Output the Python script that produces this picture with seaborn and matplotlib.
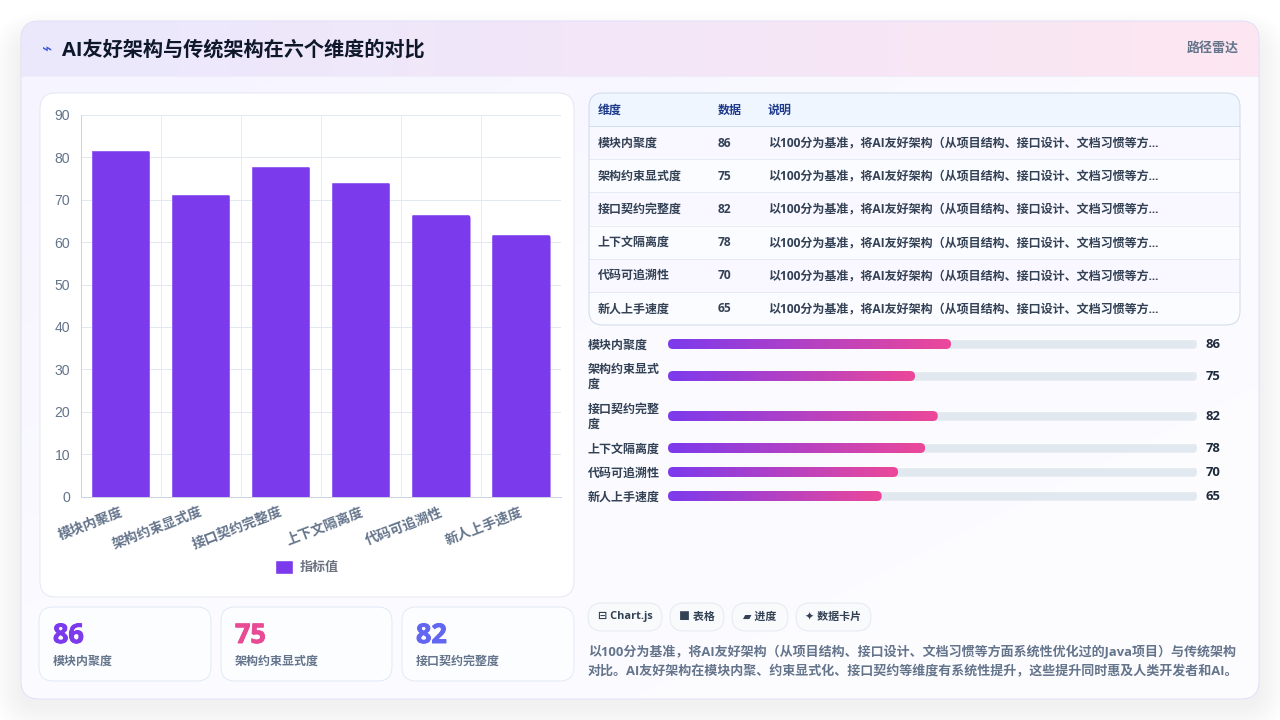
import numpy as np
import pandas as pd
import matplotlib
matplotlib.use("Agg")
import matplotlib.pyplot as plt
import matplotlib.patheffects as pe
import seaborn as sns
from matplotlib.colors import LinearSegmentedColormap
from matplotlib.patches import FancyBboxPatch, Patch, Rectangle
from matplotlib.transforms import IdentityTransform, ScaledTranslation

# ---------- Data ----------

categories = ['模块内聚度', '架构约束显式度', '接口契约完整度', '上下文隔离度', '代码可追溯性', '新人上手速度']
bar_values = [81.6, 71.2, 77.8, 74.0, 66.4, 61.7]
score_values = [86, 75, 82, 78, 70, 65]
fill_percent = [53.5, 46.7, 51.0, 48.6, 43.5, 40.4]
progress_labels = ['模块内聚度', '架构约束显式\n度', '接口契约完整\n度', '上下文隔离度', '代码可追溯性', '新人上手速度']
y_ticks = [0, 10, 20, 30, 40, 50, 60, 70, 80, 90]
table_headers = ['维度', '数据', '说明']
note_text = '以100分为基准，将AI友好架构（从项目结构、接口设计、文档习惯等方...'
card_colors = ['#7c3aed', '#e84a94', '#6366f1']
chips = ['⊟ Chart.js', '■ 表格', '▰ 进度', '✦ 数据卡片']
summary_lines = [
    '以100分为基准，将AI友好架构（从项目结构、接口设计、文档习惯等方面系统性优化过的Java项目）与传统架构',
    '对比。AI友好架构在模块内聚、约束显式化、接口契约等维度有系统性提升，这些提升同时惠及人类开发者和AI。',
]

sns.set_theme(style='white')
FONTS = ['Open Sans', 'Noto Sans CJK SC', 'DejaVu Sans']
plt.rcParams['font.family'] = FONTS

W, H = 1280, 720
PT = 0.72  # px to pt at dpi 100


# ---------- Helpers ----------

def rbox(ax, x0, y0, x1, y1, r, fc='none', ec='none', lw=PT, alpha=None, z=1):
    box = FancyBboxPatch((x0, y0), x1 - x0, y1 - y0,
                         boxstyle=f'round,pad=0,rounding_size={r}',
                         fc=fc, ec=ec, lw=lw, alpha=alpha, zorder=z)
    ax.add_patch(box)
    return box


def gradient(ax, extent, colors, clip, diagonal=0.0, z=2):
    cmap = LinearSegmentedColormap.from_list('g', colors)
    xx, yy = np.meshgrid(np.linspace(0, 1, 256), np.linspace(0, 1, 64))
    img = ax.imshow(xx * (1 - diagonal) + yy * diagonal, cmap=cmap, vmin=0, vmax=1,
                    extent=extent, aspect='auto', zorder=z, interpolation='bilinear')
    img.set_clip_path(clip)
    return img


def display_clip(x0, y0, x1, y1, r):
    # rounded rectangle in device pixels, used to clip bars
    return FancyBboxPatch((x0, y0), x1 - x0, y1 - y0,
                          boxstyle=f'round,pad=0,rounding_size={r}',
                          transform=IdentityTransform())


def patch_pixels(ax, patch):
    bb = patch.get_window_extent()
    return bb.x0, bb.y0, bb.x1, bb.y1


def label(ax, x, y, s, size, color, weight='normal', ha='left', z=6):
    return ax.text(x, y, s, fontsize=size * PT, color=color, fontweight=weight,
                   ha=ha, va='center', zorder=z)


def axes_px(fig, x0, y0, x1, y1, z):
    return fig.add_axes([x0 / W, 1 - y1 / H, (x1 - x0) / W, (y1 - y0) / H], zorder=z)


# ---------- Page ----------

fig = plt.figure(figsize=(12.8, 7.2), dpi=100, facecolor='white')
bg = fig.add_axes([0, 0, 1, 1], zorder=0)
bg.set_axis_off()

# soft shadow under the main card
for grow in range(28, 0, -2):
    rbox(bg, 21 - grow, 40 - grow, 1259 + grow, 706 + grow, 18 + grow,
         fc='#475569', alpha=0.0045, z=0.5)

shell = rbox(bg, 21, 21, 1259, 699, 18, fc='#fbfbff', z=1)
gradient(bg, (21, 1259, 699, 76), ['#f6f4ff', '#fbfbff', '#fdfdff'], shell, diagonal=0.5, z=1.2)
gradient(bg, (21, 1259, 76, 21), ['#ebe9fd', '#f3e6f8', '#fde6f1'], shell, z=1.4)
bg.plot([21, 1259], [76, 76], color='#eeecf9', lw=PT, zorder=1.5)
rbox(bg, 21, 21, 1259, 699, 18, ec='#e2e0f6', z=1.6)

label(bg, 47, 50, '⌁', 17, '#3b5bdb', 'bold', ha='center')
label(bg, 62.5, 50.5, 'AI友好架构与传统架构在六个维度的对比', 20.2, '#0f172a', 'bold')
label(bg, 1239, 48, '路径雷达', 13, '#64748b', 'bold', ha='right')

# ---------- Bar chart card ----------

rbox(bg, 40, 93, 574, 597, 16, fc='white', ec='#e4e9f1', z=2)

ax = axes_px(fig, 80.5, 115, 561, 496.5, 2)
ax.patch.set_alpha(0)
chart_df = pd.DataFrame({'维度': categories, '指标值': bar_values})
sns.barplot(data=chart_df, x='维度', y='指标值', color='#7c3aed', saturation=1,
            width=0.715, edgecolor='#8f5cf0', linewidth=0.6, ax=ax, zorder=3)
ax.set_xlim(-0.5, 5.5)
ax.set_ylim(0, 90)
ax.set_yticks(y_ticks)
ax.set_xticks(np.arange(len(categories)))
ax.set_xticks(np.arange(-0.5, 6), minor=True)
ax.set_xticklabels(categories, rotation=21, ha='right', rotation_mode='anchor',
                   fontsize=13.6 * PT, color='#64748b', fontweight='bold')
ax.set_xlabel('')
ax.set_ylabel('')
ax.tick_params(axis='x', which='major', length=0, pad=6)
ax.tick_params(axis='x', which='minor', length=8 * PT, width=PT, color='#e6eaf1')
ax.tick_params(axis='y', length=8 * PT, width=PT, color='#e2e8f0', labelcolor='#64748b',
               labelsize=14 * PT, pad=1.6)
shift = ScaledTranslation(-1 / 100, 0, fig.dpi_scale_trans)
for t in ax.get_xticklabels():
    t.set_transform(t.get_transform() + shift)
for t in ax.get_yticklabels():
    t.set_fontfamily(['Liberation Sans'])
ax.grid(True, axis='y', which='major', color='#e2e8f0', lw=PT)
ax.grid(True, axis='x', which='minor', color='#e9edf3', lw=PT)
ax.set_axisbelow(True)
for side in ['top', 'right']:
    ax.spines[side].set_visible(False)
for side in ['left', 'bottom']:
    ax.spines[side].set_color('#cbd5e1')
    ax.spines[side].set_linewidth(PT)

fig.canvas.draw()
for bar in ax.patches:
    x0, y0, x1, y1 = patch_pixels(ax, bar)
    bar.set_clip_path(display_clip(x0 - 1, y0 - 8, x1 + 1, y1 + 0.5, 4))

ax.legend(handles=[Patch(fc='#7c3aed', label='指标值')], loc='center', frameon=False,
          bbox_to_anchor=((307 - 81) / 480, -(567 - 496.5) / 381),
          handlelength=1.4, handleheight=1.25, handletextpad=0.45,
          prop={'family': FONTS, 'size': 13 * PT, 'weight': 'bold'}, labelcolor='#6b7280')

# ---------- Stat cards ----------

card_x = [(39, 211), (221, 392), (402, 574)]
for (x0, x1), value, name, color in zip(card_x, score_values[:3], categories[:3], card_colors):
    rbox(bg, x0, 607, x1, 681, 14, fc='#fbfdff', ec='#e2eaf7', z=2)
    big = label(bg, x0 + 14, 636, str(value), 27, color, 'bold')
    big.set_path_effects([pe.withStroke(linewidth=0.7, foreground=color)])
    label(bg, x0 + 14, 661, name, 12, '#64748b', 'bold')

# ---------- Table ----------

tx0, tx1, ty0, ty1 = 589, 1240, 93, 325
head_bottom = 126
row_h = (ty1 - head_bottom) / len(categories)
table_clip = rbox(bg, tx0, ty0, tx1, ty1, 14, fc='#fbfdff', z=2)
head = Rectangle((tx0, ty0), tx1 - tx0, head_bottom - ty0, fc='#eff6ff', ec='none', zorder=2.1)
bg.add_patch(head)
head.set_clip_path(table_clip)
for i in range(len(categories)):
    top = head_bottom + i * row_h
    row = Rectangle((tx0, top), tx1 - tx0, row_h, fc='#f9f7ff' if i % 2 == 0 else '#fbfcff',
                    ec='none', zorder=2.1)
    bg.add_patch(row)
    row.set_clip_path(table_clip)
    bg.plot([tx0, tx1], [top, top], color='#d5deec' if i == 0 else '#e6ebf3', lw=PT, zorder=2.2)
rbox(bg, tx0, ty0, tx1, ty1, 14, ec='#d0dae9', z=2.3)

col_x = [598, 718, 768]
for x, text in zip(col_x, table_headers):
    label(bg, x, 110, text, 12, '#1e3a8a', 'bold')
for i, (name, value) in enumerate(zip(categories, score_values)):
    y = head_bottom + (i + 0.5) * row_h + 0.5
    label(bg, col_x[0], y, name, 12, '#334155', 'bold')
    label(bg, col_x[1], y, str(value), 12, '#334155', 'bold')
    label(bg, col_x[2], y, note_text, 12.03, '#334155', 'bold')

# ---------- Progress bars ----------

bar_y = [344, 376, 416, 448, 472, 496]
pax = axes_px(fig, 668, 335, 1197, 505, 2)
pax.patch.set_alpha(0)
sns.barplot(x=[100] * len(bar_y), y=bar_y, orient='y', native_scale=True, color='#e2e8f0',
            saturation=1, width=10 / 24, ax=pax, zorder=2)
n_track = len(pax.patches)
sns.barplot(x=fill_percent, y=bar_y, orient='y', native_scale=True, color='#7c3aed',
            saturation=1, width=10 / 24, ax=pax, zorder=3)
pax.set_xlim(0, 100)
pax.set_ylim(505, 335)
pax.set_axis_off()
fig.canvas.draw()
for bar in pax.patches[:n_track]:
    bar.set_clip_path(display_clip(*patch_pixels(pax, bar), 5))
for bar in pax.patches[n_track:]:
    bb = bar.get_bbox()
    clip = display_clip(*patch_pixels(pax, bar), 5)
    bar.set_visible(False)
    img = gradient(pax, (bb.x0, bb.x1, max(bb.y0, bb.y1), min(bb.y0, bb.y1)),
                   ['#7c3aed', '#ec4899'], clip, z=4)
pax.set_xlim(0, 100)
pax.set_ylim(505, 335)

for y, name, value in zip(bar_y, progress_labels, score_values):
    bg.text(588, y + 1, name, fontsize=12 * PT, color='#334155',
            fontweight='bold', ha='left', va='center', linespacing=1.25, zorder=6)
    label(bg, 1206, y + 1, str(value), 13, '#1e293b', 'bold')

# ---------- Chips and summary ----------

chip_x = [(588, 662), (670, 724), (732, 788), (796, 871)]
for (x0, x1), text in zip(chip_x, chips):
    rbox(bg, x0, 603, x1, 631, 14, fc='#f8fafc', ec='#e5eaf1', z=2)
    label(bg, (x0 + x1) / 2, 617, text, 11, '#334155', 'bold', ha='center')

label(bg, 588, 651, summary_lines[0], 13, '#64748b', 'bold')
label(bg, 588, 672, summary_lines[1], 13, '#64748b', 'bold')

bg.set_xlim(0, W)
bg.set_ylim(H, 0)

fig.savefig('out.png', dpi=100)
